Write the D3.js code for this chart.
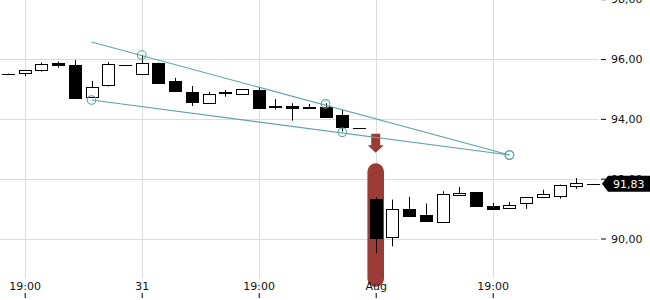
<!DOCTYPE html>
<html>
<head>
<meta charset="utf-8">
<script src="https://cdn.jsdelivr.net/npm/d3@7"></script>
<style>
  body { margin: 0; background: #fff; }
  text { font-family: "DejaVu Sans", sans-serif; }
</style>
</head>
<body>
<div id="chart"></div>
<script>
// tick labels under candles (empty = no tick)
const timeLabels = ["", "19:00", "", "", "", "", "", "", "31", "", "", "", "", "", "", "19:00", "", "", "", "", "", "", "Aug", "", "", "", "", "", "", "19:00", "", "", "", "", "", ""];

const open  = [95.50, 95.52, 95.62, 95.87, 95.80, 94.72, 95.12, 95.80, 95.49, 95.87, 95.27, 94.90, 94.52, 94.89, 94.82, 94.97, 94.42, 94.44, 94.39, 94.41, 94.13, 93.69, 91.33, 90.04, 90.97, 90.77, 90.58, 91.44, 91.54, 91.10, 91.02, 91.17, 91.39, 91.43, 91.73, 91.83];
const high  = [95.51, 95.63, 95.88, 95.91, 95.97, 95.27, 95.90, 95.80, 96.13, 95.88, 95.37, 95.10, 94.90, 94.97, 94.99, 95.03, 94.66, 94.52, 94.50, 94.52, 94.30, 93.69, 91.38, 91.30, 91.39, 91.17, 91.58, 91.72, 91.55, 91.19, 91.22, 91.38, 91.63, 91.80, 92.02, 91.83];
const low   = [95.49, 95.43, 95.58, 95.71, 94.71, 94.70, 95.08, 95.80, 95.48, 95.18, 94.93, 94.43, 94.51, 94.74, 94.81, 94.37, 94.32, 93.94, 94.33, 94.07, 93.58, 93.69, 89.52, 89.74, 90.73, 90.57, 90.57, 91.43, 91.07, 90.98, 91.01, 90.99, 91.36, 91.33, 91.66, 91.83];
const close = [95.50, 95.62, 95.82, 95.81, 94.71, 95.06, 95.82, 95.80, 95.87, 95.21, 94.94, 94.56, 94.83, 94.86, 94.99, 94.38, 94.40, 94.36, 94.34, 94.08, 93.72, 93.69, 90.04, 90.97, 90.74, 90.58, 91.50, 91.52, 91.08, 90.99, 91.12, 91.38, 91.49, 91.80, 91.84, 91.83];

const priceTicks = [90, 92, 94, 96, 98];
const lastPrice = 91.83;
const signalIndex = 22;

// trend lines: [candle index, price]
const upperLine = [[5, 96.57], [30, 92.79]];
const upperHits = [[8, 96.13], [19, 94.50], [30, 92.79]];
const lowerLine = [[5, 94.63], [30, 92.79]];
const lowerHits = [[5, 94.63], [20, 93.55], [30, 92.79]];

const width = 650, height = 300;
const plotRight = 598, plotBottom = 278;
const teal = "#5fa3a8", red = "#9b3b35";

const svg = d3.select("#chart").append("svg")
  .attr("width", width).attr("height", height);

const x = d3.scalePoint().domain(d3.range(open.length)).range([8, 593]);
const y = d3.scaleLinear().domain([90, 96]).range([238.5, 59]);
const px = i => Math.round(x(i)) + 0.5;

const xTicks = d3.range(timeLabels.length).filter(i => timeLabels[i] !== "");

// grid
const grid = svg.append("g").attr("stroke", "#dcdcdc").attr("stroke-width", 1);
grid.selectAll(".gx").data(xTicks).join("line")
  .attr("x1", px).attr("x2", px).attr("y1", 0).attr("y2", plotBottom);
grid.selectAll(".gy").data(priceTicks).join("line")
  .attr("x1", 0).attr("x2", plotRight)
  .attr("y1", d => Math.round(y(d)) + 0.5).attr("y2", d => Math.round(y(d)) + 0.5);

// signal bar + arrow
const sx = x(signalIndex);
const barTop = y(high[signalIndex]) - 34, barBot = y(low[signalIndex]) + 34;
svg.append("rect")
  .attr("x", sx - 8.3).attr("width", 16.6)
  .attr("y", barTop).attr("height", barBot - barTop)
  .attr("rx", 8.3).attr("fill", red);
const aTip = barTop - 10.5;
svg.append("path")
  .attr("fill", red)
  .attr("d", `M${sx - 4.5},${aTip - 19} H${sx + 4.5} V${aTip - 7.5} H${sx + 8} L${sx},${aTip} L${sx - 8},${aTip - 7.5} H${sx - 4.5} Z`);

// candles
const idx = d3.range(open.length);
const candles = svg.append("g");
candles.selectAll(".wick").data(idx).join("line")
  .attr("x1", px).attr("x2", px)
  .attr("y1", i => y(high[i])).attr("y2", i => y(low[i]))
  .attr("stroke", "#000");
candles.selectAll(".body").data(idx).join("rect")
  .attr("x", i => px(i) - 6)
  .attr("width", 12)
  .attr("y", i => Math.round(y(Math.max(open[i], close[i]))) + 0.5)
  .attr("height", i => Math.max(0.01, Math.round(Math.abs(y(open[i]) - y(close[i])))))
  .attr("fill", i => close[i] >= open[i] ? "#fff" : "#000")
  .attr("stroke", "#000");

// trend lines
const line = d3.line().x(d => x(d[0])).y(d => y(d[1]));
[upperLine, lowerLine].forEach(l => {
  svg.append("path").attr("d", line(l)).attr("fill", "none")
    .attr("stroke", teal).attr("stroke-width", 1.1);
});
svg.selectAll(".hit").data(upperHits.concat(lowerHits)).join("circle")
  .attr("cx", d => x(d[0])).attr("cy", d => y(d[1])).attr("r", 4.3)
  .attr("fill", "none").attr("stroke", teal).attr("stroke-width", 1.1);

// axes
const fmt = d3.formatLocale({ decimal: ",", thousands: ".", grouping: [3], currency: ["", ""] }).format(".2f");
const yAxis = svg.append("g")
  .attr("transform", `translate(601,0)`)
  .call(d3.axisRight(y).tickValues(priceTicks).tickFormat(fmt).tickSize(5).tickPadding(5));
yAxis.select(".domain").remove();
yAxis.selectAll("text").attr("font-size", 11).attr("font-family", "DejaVu Sans").attr("fill", "#111");
yAxis.selectAll("line").attr("stroke", "#000");

const xAxis = svg.append("g")
  .attr("transform", `translate(0,298)`)
  .call(d3.axisTop(x).tickValues(xTicks).tickFormat(i => timeLabels[i]).tickSize(5).tickPadding(3));
xAxis.select(".domain").remove();
xAxis.selectAll("text").attr("font-size", 11).attr("font-family", "DejaVu Sans").attr("fill", "#111");
xAxis.selectAll("line").attr("stroke", "#000");

// last price label
const ly = y(lastPrice);
svg.append("path")
  .attr("fill", "#000")
  .attr("d", `M602,${ly} L608,${ly - 8} H650 V${ly + 8} H608 Z`);
svg.append("text")
  .attr("x", 613).attr("y", ly).attr("dy", "0.35em")
  .attr("font-size", 11).attr("fill", "#fff")
  .text(fmt(lastPrice));
</script>
</body>
</html>
